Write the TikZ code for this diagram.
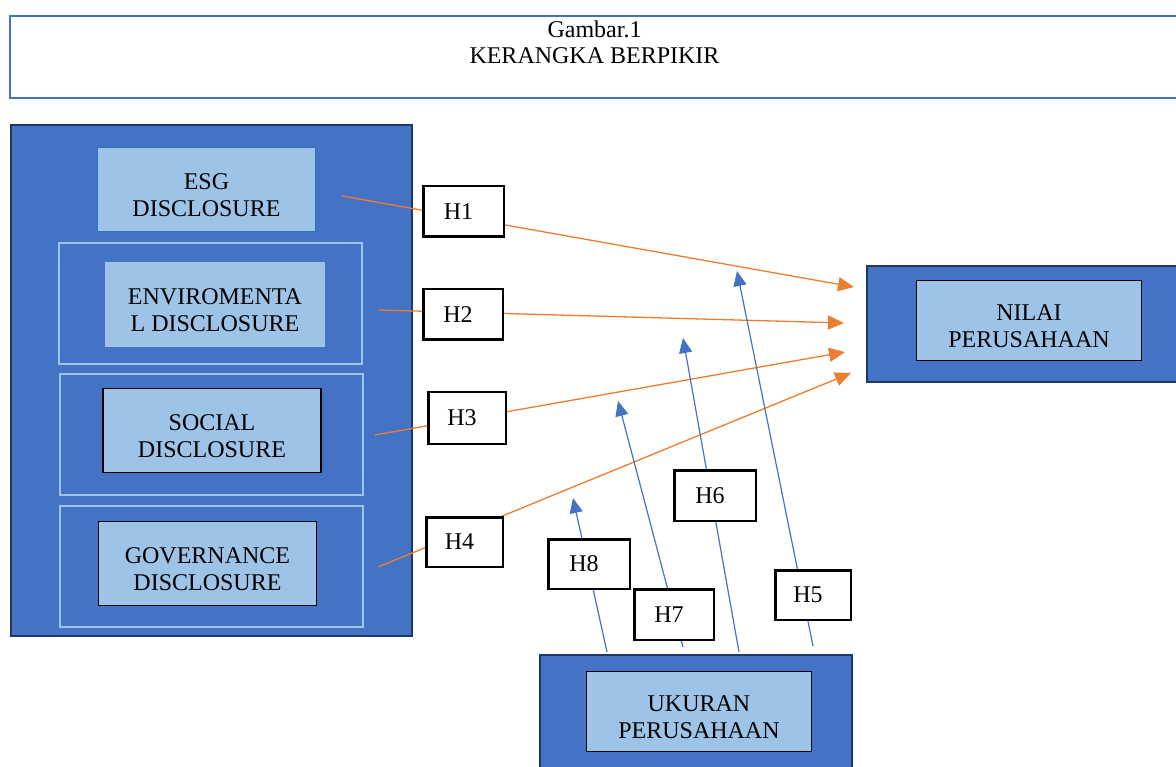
\documentclass[tikz,border=0pt]{standalone}
\usepackage{fontspec}
\setmainfont{Liberation Serif}
\usetikzlibrary{arrows.meta}
\definecolor{mainblue}{HTML}{4472C4}
\definecolor{navy}{HTML}{203864}
\definecolor{paleblue}{HTML}{9DC3E6}
\definecolor{midblue}{HTML}{2E75B6}
\definecolor{orangeA}{HTML}{ED7D31}
\newcommand{\boxfontsz}{\fontsize{24}{27}\selectfont}
\newcommand{\titlefontsz}{\fontsize{24}{26}\selectfont}
\tikzset{
  bigbox/.style={draw=navy, line width=2.5pt, fill=mainblue, inner sep=0pt},
  subframe/.style={draw=paleblue, line width=2pt, inner sep=0pt},
  lbox/.style={fill=paleblue, inner sep=0pt},
  lboxk/.style={lbox, draw=black, line width=1.5pt},
  lbltext/.style={align=center, font=\boxfontsz, inner sep=0pt, yshift=-5.5pt},
  hypbox/.style={draw=black, line width=2.5pt, fill=white, font=\boxfontsz, inner sep=0pt, execute at end node={\hspace*{10pt}}},
  oarrow/.style={draw=orangeA, line width=1.3pt, -{Triangle[length=16pt,width=14pt]}},
  barrow/.style={draw=mainblue, line width=1.2pt, -{Triangle[length=15pt,width=13pt]}},
}
\begin{document}
\begin{tikzpicture}[x=1pt,y=-1pt]
\useasboundingbox (0,0) rectangle (1176,767);
% title
\node[draw=mainblue, line width=2.5pt, minimum width=1175pt, minimum height=82pt, inner sep=0pt] (titlebox) at (597.5,57) {};
\node[align=center, font=\titlefontsz, inner sep=0pt, anchor=north] (title) at (594.5,21) {Gambar.1\\KERANGKA BERPIKIR};
% left block
\node[bigbox, minimum width=401pt, minimum height=511pt] (left) at (211.5,380.5) {};
\node[lbox, draw=midblue, line width=1.5pt, minimum width=218pt, minimum height=84pt,
      label={[lbltext]center:ESG\\DISCLOSURE}] (esg) at (206.5,189.5) {};
\node[subframe, minimum width=303pt, minimum height=121pt] (envframe) at (210.5,303.5) {};
\node[lbox, minimum width=220pt, minimum height=85pt,
      label={[lbltext]center:ENVIROMENTA\\L DISCLOSURE}] (env) at (215,304.5) {};
\node[subframe, minimum width=303pt, minimum height=121pt] (socframe) at (211.5,434.5) {};
\node[lboxk, minimum width=218pt, minimum height=84pt,
      label={[lbltext]center:SOCIAL\\DISCLOSURE}] (soc) at (212,430.5) {};
\node[subframe, minimum width=303pt, minimum height=121pt] (govframe) at (211.5,566.5) {};
\node[lboxk, minimum width=218pt, minimum height=84pt,
      label={[lbltext]center:GOVERNANCE\\DISCLOSURE}] (gov) at (207.5,563.5) {};
% nilai
\node[bigbox, minimum width=320pt, minimum height=116pt] (nilaiout) at (1027,324) {};
\node[lboxk, minimum width=225pt, minimum height=80pt,
      label={[lbltext]center:NILAI\\PERUSAHAAN}] (nilai) at (1029,320.5) {};
% ukuran
\node[bigbox, minimum width=312pt, minimum height=130pt] (ukuranout) at (696,720) {};
\node[lboxk, minimum width=225pt, minimum height=80pt,
      label={[lbltext]center:UKURAN\\PERUSAHAAN}] (ukuran) at (699,711.5) {};
% connector ends
\coordinate (s1) at (342,196); \coordinate (t1) at (854,287);
\coordinate (s2) at (379,310); \coordinate (t2) at (844,323);
\coordinate (s3) at (375,435); \coordinate (t3) at (845,352);
\coordinate (s4) at (378,567); \coordinate (t4) at (851,373);
\coordinate (b5) at (813,646); \coordinate (t5) at (737,271);
\coordinate (b6) at (739,652); \coordinate (t6) at (683,338);
\coordinate (b7) at (683,647); \coordinate (t7) at (618,401);
\coordinate (b8) at (607,652); \coordinate (t8) at (573,498);
\draw[oarrow] (s1) -- (t1);
\draw[oarrow] (s2) -- (t2);
\draw[oarrow] (s3) -- (t3);
\draw[oarrow] (s4) -- (t4);
\draw[barrow] (b5) -- (t5);
\draw[barrow] (b6) -- (t6);
\draw[barrow] (b7) -- (t7);
\draw[barrow] (b8) -- (t8);
% hypothesis labels
\node[hypbox, minimum width=80.5pt, minimum height=50.5pt] (H1) at (463.5,211.5) {H1};
\node[hypbox, minimum width=79.5pt, minimum height=50.5pt] (H2) at (463,314.5) {H2};
\node[hypbox, minimum width=77.5pt, minimum height=51.5pt] (H3) at (467,418) {H3};
\node[hypbox, minimum width=76.5pt, minimum height=49.5pt] (H4) at (464.5,542) {H4};
\node[hypbox, minimum width=75.5pt, minimum height=49.5pt] (H5) at (813,595) {H5};
\node[hypbox, minimum width=81.5pt, minimum height=50.5pt] (H6) at (715,495.5) {H6};
\node[hypbox, minimum width=79.5pt, minimum height=50.5pt] (H7) at (674,614.5) {H7};
\node[hypbox, minimum width=81.5pt, minimum height=49.5pt] (H8) at (589,564) {H8};
\end{tikzpicture}
\end{document}
